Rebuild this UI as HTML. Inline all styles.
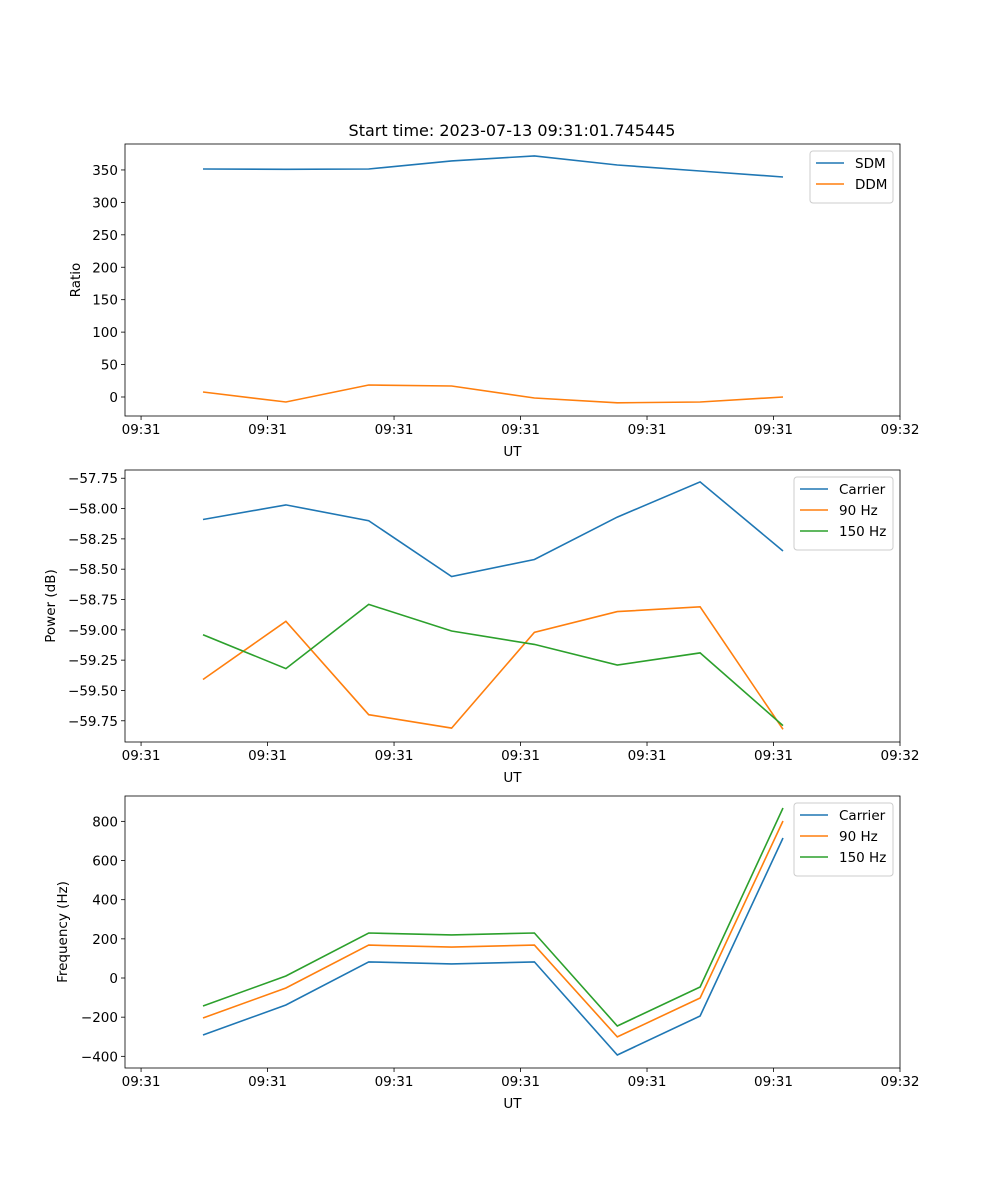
<!DOCTYPE html>
<html><head><meta charset="utf-8"><style>
html,body{margin:0;padding:0;background:#fff;}
svg{display:block;font-family:"DejaVu Sans","Liberation Sans",sans-serif;}
</style></head><body>
<svg id="fig" width="1000" height="1200" viewBox="0 0 1000 1200"></svg>
<script>
const times = [4.9, 11.45, 18.0, 24.55, 31.1, 37.65, 44.2, 50.75];
const xTickVals = [0, 10, 20, 30, 40, 50, 60];
const xTickLabels = ["09:31","09:31","09:31","09:31","09:31","09:31","09:32"];
const sdm = [351.5, 351, 351.5, 363.9, 371.6, 357.7, 348.4, 339.2];
const ddm = [7.7, -7.7, 18.5, 17, -1.5, -9, -7.7, 0];
const powCarrier = [-58.09, -57.97, -58.10, -58.56, -58.42, -58.07, -57.78, -58.35];
const pow90 = [-59.41, -58.93, -59.70, -59.81, -59.02, -58.85, -58.81, -59.82];
const pow150 = [-59.04, -59.32, -58.79, -59.01, -59.12, -59.29, -59.19, -59.79];
const freqCarrier = [-291, -138, 82, 72, 82, -393, -194, 715];
const freq90 = [-204, -51, 168, 158, 168, -301, -102, 802];
const freq150 = [-143, 10, 230, 220, 230, -245, -46, 868];
const ratioTicks = [0, 50, 100, 150, 200, 250, 300, 350];
const powerTicks = [-59.75, -59.5, -59.25, -59.0, -58.75, -58.5, -58.25, -58.0, -57.75];
const freqTicks = [-400, -200, 0, 200, 400, 600, 800];

const NS = "http://www.w3.org/2000/svg";
const svg = document.getElementById("fig");
function mk(tag, attrs, parent) {
  const e = document.createElementNS(NS, tag);
  for (const k in attrs) e.setAttribute(k, attrs[k]);
  (parent || svg).appendChild(e);
  return e;
}
const L = 125, R = 900;
const xMin = -1.27, xMax = 60;
const xs = v => L + (v - xMin) / (xMax - xMin) * (R - L);

function panel(name, top, bottom, yMin, yMax, ticks, fmt, ylabel, series, legendW) {
  const g = mk("g", {});
  
  
  const ys = v => bottom - (v - yMin) / (yMax - yMin) * (bottom - top);
  xTickVals.forEach((t, i) => {
    const x = xs(t);
    mk("line", {x1: x, x2: x, y1: bottom, y2: bottom + 4, stroke: "#000", "stroke-width": 0.8}, g);
    const tx = mk("text", {x: x, y: bottom + 18, "text-anchor": "middle", "font-size": 13.5}, g);
    tx.textContent = xTickLabels[i];
    
    
  });
  ticks.forEach(t => {
    const y = ys(t);
    mk("line", {x1: L - 4, x2: L, y1: y, y2: y, stroke: "#000", "stroke-width": 0.8}, g);
    const tx = mk("text", {x: L - 7, y: y + 5, "text-anchor": "end", "font-size": 13.5}, g);
    tx.textContent = fmt(t);
    
    
  });
  const xl = mk("text", {x: (L + R) / 2, y: bottom + 40, "text-anchor": "middle", "font-size": 13.5}, g);
  xl.textContent = "UT";
  
  
  const cy = (top + bottom) / 2;
  const lblX = ylabel === "Ratio" ? 80 : (ylabel === "Power (dB)" ? 55 : 67);
  const yl = mk("text", {x: lblX, y: cy, "text-anchor": "middle", "font-size": 13.5, transform: `rotate(-90 ${lblX} ${cy})`}, g);
  yl.textContent = ylabel;
  
  
  series.forEach(s => {
    const d = s.vals.map((v, i) => (i ? "L" : "M") + xs(times[i]).toFixed(1) + "," + ys(v).toFixed(1)).join(" ");
    const p = mk("path", {d: d, fill: "none", stroke: s.color, "stroke-width": 1.6}, g);
    
    
  });
  mk("rect", {x: L, y: top, width: R - L, height: bottom - top, fill: "none", stroke: "#000", "stroke-width": 0.8}, g);
  const lh = 10 + series.length * 21;
  const lx = R - 7 - legendW, ly = top + 7;
  const lg = mk("g", {}, g);
  
  
  mk("rect", {x: lx, y: ly, width: legendW, height: lh, rx: 3, fill: "#fff", "fill-opacity": 0.8, stroke: "#ccc", "stroke-width": 1}, lg);
  series.forEach((s, i) => {
    const yy = ly + 12 + i * 21;
    mk("line", {x1: lx + 6, x2: lx + 34, y1: yy, y2: yy, stroke: s.color, "stroke-width": 1.6}, lg);
    const t = mk("text", {x: lx + 45, y: yy + 5, "font-size": 13.5}, lg);
    t.textContent = s.label;
    
    
  });
}
const BLUE = "#1f77b4", ORANGE = "#ff7f0e", GREEN = "#2ca02c";
const title = mk("text", {x: 512, y: 136, "text-anchor": "middle", "font-size": 16});
title.textContent = "Start time: 2023-07-13 09:31:01.745445";


panel("ratio", 144, 416, -29.3, 390, ratioTicks, v => v.toFixed(0), "Ratio",
  [{label: "SDM", vals: sdm, color: BLUE}, {label: "DDM", vals: ddm, color: ORANGE}], 83);
panel("power", 470, 742, -59.925, -57.682, powerTicks, v => "\u2212" + Math.abs(v).toFixed(2), "Power (dB)",
  [{label: "Carrier", vals: powCarrier, color: BLUE}, {label: "90 Hz", vals: pow90, color: ORANGE}, {label: "150 Hz", vals: pow150, color: GREEN}], 99);
panel("frequency", 796, 1068, -459.6, 929.5, freqTicks, v => (v < 0 ? "\u2212" : "") + Math.abs(v), "Frequency (Hz)",
  [{label: "Carrier", vals: freqCarrier, color: BLUE}, {label: "90 Hz", vals: freq90, color: ORANGE}, {label: "150 Hz", vals: freq150, color: GREEN}], 99);
</script>
</body></html>
